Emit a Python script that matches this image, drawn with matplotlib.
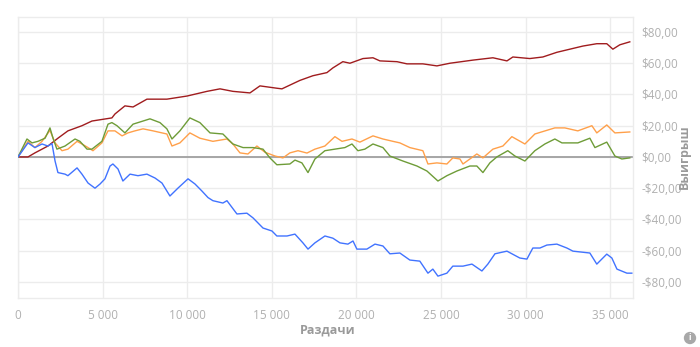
import matplotlib
matplotlib.use("Agg")
import matplotlib.pyplot as plt
from matplotlib.ticker import FuncFormatter, FixedLocator

plt.rcParams['font.family'] = ['Open Sans', 'DejaVu Sans']

# ---- data (hands played vs. winnings in $) ----
red_hands = [0, 590, 1000, 1770, 2360, 2950, 3780, 4370, 4960, 5550, 5730, 6320, 6800, 7620, 8800, 9990,
             11170, 11940, 12700, 13710, 14300, 15300, 15600, 16660, 17430, 18260, 18610, 19200, 19620,
             20390, 20980, 21390, 22400, 22990, 23930, 24760, 25530, 26890, 28070, 28900, 29250, 30250,
             31020, 31850, 32620, 33390, 34210, 34800, 35160, 35570, 36160]
red_vals = [0, 0, 2.6, 7, 12, 16.7, 20, 23, 24, 25, 27.5, 32.7, 32, 37, 37, 39, 42, 43.6, 42, 41, 45.5, 44,
            43.6, 49, 52, 54, 57, 61, 60, 63, 63.5, 61.5, 61, 59.6, 59.6, 58.3, 60, 62, 63.5, 61.5, 64, 63,
            64, 67, 69, 71, 72.5, 72.5, 69, 71.8, 73.7]

orange_hands = [0, 590, 1000, 1420, 1890, 2190, 2600, 2950, 3490, 3780, 4140, 4430, 4960, 5320, 5730, 6150,
                6500, 6910, 7390, 7980, 8800, 9100, 9570, 10160, 10750, 11520, 12350, 12700, 13120, 13590,
                14120, 14600, 15190, 15660, 16070, 16550, 17080, 17550, 18140, 18730, 19150, 19740, 20210,
                20980, 21570, 22160, 22570, 23160, 23930, 24230, 24760, 25350, 25700, 26120, 26300, 27120,
                27480, 28070, 28660, 29190, 29960, 30550, 31730, 32320, 33090, 33920, 34210, 34800, 35280,
                36160]
orange_vals = [0, 10, 6, 10, 17, 9, 4, 5, 10, 8.3, 6, 4, 9, 16.7, 16.7, 13.5, 15.4, 16.7, 18, 16.7, 14.7, 7,
               9, 15.4, 12, 10, 11.5, 8.3, 2.6, 1.9, 7, 3, 0.6, -0.6, 2.6, 4, 2.5, 5, 7, 13, 10, 11.5, 9.5,
               13.5, 11.5, 10, 9, 6, 4, -4.5, -3.8, -4.5, -0.6, -1.3, -4.5, 1.9, -0.6, 5, 7, 13, 8.3, 14.7,
               18.6, 18.6, 16.7, 20, 15.4, 20.5, 15.4, 16]

green_hands = [0, 530, 830, 1180, 1600, 1890, 2070, 2300, 2780, 3370, 3660, 4080, 4370, 4960, 5320, 5550,
               5850, 6320, 6800, 7390, 7800, 8390, 8800, 9100, 9570, 10160, 10750, 11350, 12110, 12700,
               13300, 13890, 14480, 14890, 15300, 16070, 16370, 16780, 17140, 17550, 18140, 18730, 19320,
               19740, 20090, 20500, 20980, 21570, 21980, 22750, 23580, 24170, 24820, 25350, 25940, 26710,
               27120, 27480, 27890, 28300, 28950, 29370, 29960, 30550, 31140, 31730, 32150, 32500, 33090,
               33800, 34100, 34800, 35280, 35690, 36160]
green_vals = [0, 11.5, 9, 10, 12, 18.6, 12, 5, 7, 11.5, 10, 5, 5, 10, 21, 22, 20, 15.4, 21, 23, 24.4, 22, 18,
              11.5, 16.7, 25, 22, 15.4, 14.7, 8.3, 6, 6, 5, -0.6, -5, -4.5, -2, -3.8, -10, -1.3, 4, 5, 6,
              8.3, 4, 5, 8.3, 6, 0.6, -2.6, -5.8, -9, -15.4, -12, -9, -5.8, -5.8, -10, -3.8, 0, 4, 0.6,
              -2.6, 4, 8.3, 11.5, 9, 9, 9, 12, 6, 9.5, 0.6, -1.3, -0.6]

blue_hands = [0, 590, 1000, 1420, 1770, 2010, 2190, 2360, 2780, 2950, 3490, 3780, 4140, 4550, 4850, 5140,
              5440, 5610, 5910, 6200, 6620, 7090, 7620, 8100, 8510, 8980, 9450, 10050, 10460, 10870, 11230,
              11520, 12110, 12350, 12940, 13530, 13890, 14480, 15010, 15300, 15900, 16370, 16840, 17140,
              17550, 18140, 18610, 19030, 19500, 19800, 20030, 20620, 21100, 21570, 21980, 22570, 23160,
              23750, 24230, 24520, 24820, 25350, 25700, 26300, 26830, 27420, 27770, 28190, 28900, 29660,
              30080, 30430, 30850, 31260, 31850, 32440, 32800, 33800, 34210, 34800, 35100, 35400, 35990,
              36280]
blue_vals = [0, 9, 6, 8.3, 7, 8.5, -2.6, -10, -11, -12, -7, -11, -16.7, -20, -17.3, -14, -5.8, -4.5, -7.7,
             -15.4, -11, -12, -11, -13.5, -16.7, -25, -20, -14, -17.3, -21.8, -26, -28, -29.5, -28, -36.5,
             -36, -39, -45.5, -47.4, -50.6, -50.6, -49.4, -55, -59, -55, -50.6, -52, -55, -55.8, -53.8,
             -59, -59, -55.8, -57, -62, -61.5, -66, -66.7, -74.4, -71.8, -76.3, -74.4, -69.9, -69.9,
             -68.6, -73, -68.6, -62, -60.3, -64.7, -65.4, -58.3, -58.3, -56.4, -55.8, -58.3, -60.3, -61.5,
             -68.6, -62.2, -64.7, -71.8, -74.4, -74.4]

x_ticks = [0, 5000, 10000, 15000, 20000, 25000, 30000, 35000]
y_ticks = [-80, -60, -40, -20, 0, 20, 40, 60, 80]
x_label = "Раздачи"
y_label = "Выигрыш"

# ---- figure ----
fig = plt.figure(figsize=(7.0, 3.47), dpi=100)
ax = fig.add_axes([18 / 700, 1 - 298 / 347, (633 - 18) / 700, (298 - 17) / 347])

grid_c = "#ececec"
ax.set_xlim(0, 36350)
ax.set_ylim(-90.3, 89.6)
ax.xaxis.set_major_locator(FixedLocator(x_ticks))
ax.yaxis.set_major_locator(FixedLocator(y_ticks))
ax.grid(True, color=grid_c, linewidth=1.0)
ax.set_axisbelow(True)
for s in ax.spines.values():
    s.set_color(grid_c)
    s.set_linewidth(1.0)

ax.axhline(0, color="#a0a0a0", linewidth=1.3, zorder=1.5)

lw = 1.0
ax.plot(red_hands, red_vals, color="#a01c1e", linewidth=lw, zorder=3)
ax.plot(orange_hands, orange_vals, color="#ffa04a", linewidth=lw, zorder=3)
ax.plot(green_hands, green_vals, color="#6e9c38", linewidth=lw, zorder=3)
ax.plot(blue_hands, blue_vals, color="#4173ff", linewidth=lw, zorder=3)


def fmt_money(v, pos):
    v = int(round(v))
    sign = "-" if v < 0 else ""
    return f"{sign}${abs(v)},00"


def fmt_hands(v, pos):
    v = int(round(v))
    return f"{v:,}".replace(",", " ")


ax.yaxis.tick_right()
ax.yaxis.set_major_formatter(FuncFormatter(fmt_money))
ax.xaxis.set_major_formatter(FuncFormatter(fmt_hands))
ax.tick_params(axis="both", length=0, labelsize=8.5, labelcolor="#b0b0b0")
ax.tick_params(axis="y", pad=6)
ax.tick_params(axis="x", pad=8)

fig.text(328 / 700, 1 - 330 / 347, x_label, ha="center", va="center", fontsize=9,
         fontweight="bold", color="#9a9a9a")
fig.text(684 / 700, 1 - 157 / 347, y_label, ha="center", va="center", fontsize=9,
         fontweight="bold", color="#9a9a9a", rotation=90)

# info icon
fig.text(690 / 700, 1 - 338 / 347, "i", ha="center", va="center", fontsize=6, fontweight="bold",
         color="white",
         bbox=dict(boxstyle="circle,pad=0.2", facecolor="#a8a8a8", edgecolor="none"))

fig.savefig("out.png", dpi=100)
